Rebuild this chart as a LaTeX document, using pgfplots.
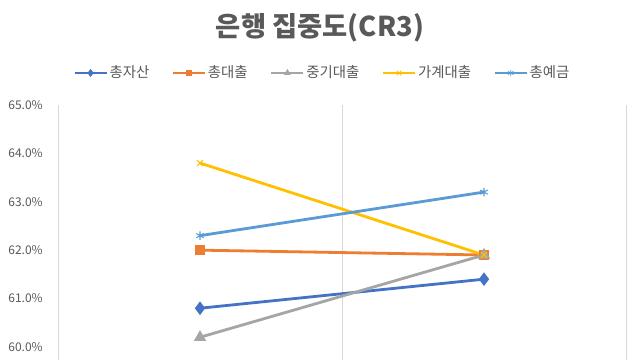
\documentclass[border=0pt]{standalone}
\usepackage{fontspec}
\setmainfont{Noto Sans CJK KR}
\usepackage{pgfplots}
\pgfplotsset{compat=1.18}
\definecolor{cA}{HTML}{4472C4}
\definecolor{cB}{HTML}{ED7D31}
\definecolor{cC}{HTML}{A5A5A5}
\definecolor{cD}{HTML}{FFC000}
\definecolor{cE}{HTML}{5B9BD5}
\definecolor{txt}{HTML}{595959}
\definecolor{grd}{HTML}{D9D9D9}
\begin{document}
\begin{tikzpicture}
\useasboundingbox[fill=white] (0,0) rectangle (480pt,270pt);
\node[font=\fontsize{20.5pt}{24pt}\selectfont\bfseries, text=txt] at (240pt,249.5pt) {은행 집중도(CR3)};
\begin{axis}[
  at={(43.5pt,0pt)}, anchor=south west,
  scale only axis, width=426pt, height=191.25pt,
  xmin=0, xmax=2, ymin=59.73, ymax=65,
  axis line style={draw=none},
  xtick={0,1,2}, xticklabels={}, xmajorgrids,
  grid style={grd, line width=0.75pt},
  major tick length=0pt,
  ytick={60,61,62,63,64,65},
  yticklabel={\pgfmathprintnumber[fixed,fixed zerofill,precision=1]{\tick}\%},
  /pgf/number format/assume math mode=true,
  yticklabel style={font=\fontsize{9pt}{10pt}\selectfont, text=txt, inner sep=0pt, xshift=-11.25pt},
  legend columns=5,
  legend style={at={(rel axis cs:0.4657,1.1255)}, anchor=center, draw=none, fill=none,
    font=\fontsize{10.8pt}{12pt}\selectfont, text=txt,
    nodes={inner sep=1.5pt},
    /tikz/every even column/.append style={column sep=15.5pt}},
  legend image code/.code={\draw[mark repeat=2,mark phase=2, line width=1.5pt, mark options={scale=0.75, line width=0.6pt, solid}] plot coordinates {(0pt,0pt) (12pt,0pt) (24pt,0pt)};},
  every axis plot/.append style={line width=2.1pt, mark options={line width=0.8pt, solid}},
]
\addplot[cA, mark=diamond*, mark size=3.4pt, mark options={fill=cA}] coordinates {(0.5,60.8) (1.5,61.4)};
\addlegendentry{총자산}
\addplot[cB, mark=square*, mark size=2.6pt, mark options={fill=cB}] coordinates {(0.5,62.0) (1.5,61.9)};
\addlegendentry{총대출}
\addplot[cC, mark=triangle*, mark size=3.2pt, mark options={fill=cC}] coordinates {(0.5,60.2) (1.5,61.9)};
\addlegendentry{중기대출}
\addplot[cD, mark=x, mark size=3.2pt] coordinates {(0.5,63.8) (1.5,61.9)};
\addlegendentry{가계대출}
\addplot[cE, mark=asterisk, mark size=3.2pt] coordinates {(0.5,62.3) (1.5,63.2)};
\addlegendentry{총예금}
\end{axis}
\end{tikzpicture}
\end{document}
